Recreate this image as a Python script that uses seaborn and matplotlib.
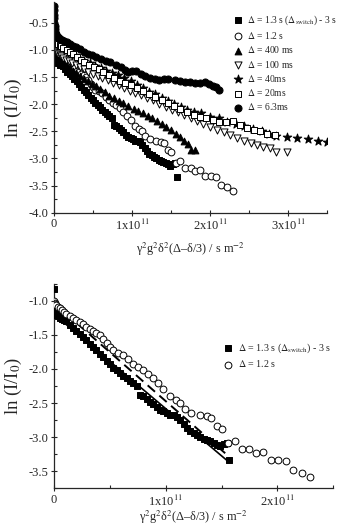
import matplotlib
matplotlib.use("Agg")
import matplotlib.pyplot as plt
import matplotlib.ticker as mticker
import numpy as np
import pandas as pd
import seaborn as sns

sns.set_style("ticks")
plt.rcParams["font.family"] = ["Liberation Serif", "DejaVu Serif"]
plt.rcParams["mathtext.fontset"] = "stix"
plt.rcParams["axes.unicode_minus"] = False

# x values in units of 1e11 s m^-2, y = ln(I/I0)

# delta = 1.3 s (switch) - 3 s  (filled squares)
sq13_x = [0.0, 0.0, 0.005, 0.01, 0.02, 0.035, 0.05, 0.07, 0.09, 0.11,
          0.14, 0.17, 0.20, 0.23, 0.26, 0.29, 0.32, 0.35, 0.38, 0.41,
          0.44, 0.47, 0.50, 0.53, 0.56, 0.59, 0.62, 0.65, 0.68, 0.71,
          0.74, 0.77, 0.80, 0.83, 0.86, 0.89, 0.92, 0.95, 0.98, 1.01,
          1.04, 1.07, 1.10, 1.13, 1.16, 1.19, 1.22, 1.25, 1.28, 1.31,
          1.34, 1.37, 1.40, 1.43, 1.46, 1.49, 1.52, 1.55, 1.57]
sq13_y = [-0.83, -1.12, -1.16, -1.19, -1.21, -1.23, -1.25, -1.27, -1.28, -1.30,
          -1.35, -1.40, -1.45, -1.49, -1.53, -1.58, -1.63, -1.68, -1.73, -1.78,
          -1.83, -1.88, -1.93, -1.98, -2.02, -2.06, -2.10, -2.14, -2.18, -2.21,
          -2.25, -2.38, -2.40, -2.44, -2.48, -2.52, -2.56, -2.60, -2.62, -2.65,
          -2.67, -2.68, -2.70, -2.75, -2.81, -2.87, -2.91, -2.94, -2.97, -3.00,
          -3.02, -3.04, -3.06, -3.08, -3.11, -3.13, -3.10, -3.09, -3.34]

# delta = 1.2 s (open circles)
c12_x = [0.0, 0.005, 0.01, 0.02, 0.035, 0.05, 0.07, 0.09, 0.11, 0.14,
         0.17, 0.20, 0.23, 0.26, 0.29, 0.32, 0.35, 0.38, 0.41, 0.44,
         0.47, 0.50, 0.53, 0.57, 0.62, 0.66, 0.71, 0.75, 0.80, 0.84,
         0.89, 0.93, 0.98, 1.04, 1.09, 1.13, 1.17, 1.23, 1.31, 1.37,
         1.41, 1.46, 1.50, 1.56, 1.62, 1.68, 1.75, 1.81, 1.87, 1.94,
         2.01, 2.08, 2.14, 2.22, 2.29]
c12_y = [-1.00, -1.03, -1.05, -1.07, -1.09, -1.11, -1.14, -1.16, -1.19, -1.22,
         -1.25, -1.28, -1.31, -1.34, -1.38, -1.41, -1.44, -1.47, -1.50, -1.56,
         -1.62, -1.68, -1.73, -1.76, -1.80, -1.86, -1.93, -1.97, -2.02, -2.07,
         -2.14, -2.21, -2.29, -2.40, -2.46, -2.50, -2.59, -2.65, -2.67, -2.69,
         -2.72, -2.84, -2.88, -3.09, -3.05, -3.17, -3.17, -3.23, -3.22, -3.33,
         -3.33, -3.35, -3.48, -3.53, -3.59]

# delta = 400 ms (filled triangles)
t400_x = [0.0, 0.005, 0.01, 0.02, 0.035, 0.05, 0.07, 0.09, 0.11, 0.14,
          0.17, 0.20, 0.24, 0.28, 0.33, 0.38, 0.43, 0.48, 0.54, 0.59,
          0.65, 0.71, 0.77, 0.83, 0.89, 0.95, 1.02, 1.08, 1.14, 1.20,
          1.26, 1.32, 1.38, 1.44, 1.50, 1.56, 1.62, 1.67, 1.72, 1.76, 1.81]
t400_y = [-1.02, -1.05, -1.07, -1.09, -1.11, -1.13, -1.16, -1.18, -1.21, -1.25,
          -1.29, -1.33, -1.38, -1.43, -1.48, -1.53, -1.58, -1.62, -1.67, -1.72,
          -1.78, -1.84, -1.89, -1.94, -1.98, -2.03, -2.08, -2.13, -2.17, -2.22,
          -2.26, -2.31, -2.37, -2.42, -2.48, -2.54, -2.60, -2.68, -2.74, -2.84, -2.84]

# delta = 100 ms (open down triangles)
t100_x = [0.0, 0.005, 0.01, 0.02, 0.035, 0.05, 0.07, 0.09, 0.12, 0.15,
          0.19, 0.23, 0.28, 0.33, 0.38, 0.44, 0.50, 0.56, 0.62, 0.69,
          0.76, 0.83, 0.90, 0.97, 1.04, 1.11, 1.19, 1.27, 1.35, 1.43,
          1.51, 1.59, 1.67, 1.75, 1.83, 1.91, 2.00, 2.09, 2.18, 2.26,
          2.35, 2.43, 2.52, 2.60, 2.68, 2.77, 2.85, 2.98]
t100_y = [-0.98, -1.00, -1.02, -1.04, -1.06, -1.08, -1.10, -1.12, -1.15, -1.18,
          -1.21, -1.24, -1.28, -1.31, -1.35, -1.40, -1.44, -1.48, -1.52, -1.56,
          -1.61, -1.65, -1.70, -1.75, -1.79, -1.83, -1.88, -1.93, -1.99, -2.05,
          -2.10, -2.15, -2.20, -2.26, -2.31, -2.36, -2.42, -2.47, -2.52, -2.57,
          -2.63, -2.68, -2.72, -2.75, -2.78, -2.80, -2.88, -2.88]

# delta = 40 ms (stars)
s40_x = [0.0, 0.01, 0.03, 0.06, 0.10, 0.15, 0.20, 0.26, 0.32, 0.39,
         0.46, 0.53, 0.60, 0.67, 0.74, 0.82, 0.90, 0.98, 1.06, 1.14,
         1.22, 1.30, 1.38, 1.46, 1.54, 1.63, 1.71, 1.79, 1.89, 2.00,
         2.11, 2.22, 2.33, 2.44, 2.55, 2.66, 2.75, 2.85, 2.98, 3.11,
         3.26, 3.39, 3.50]
s40_y = [-0.86, -0.88, -0.90, -0.93, -0.97, -1.01, -1.05, -1.10, -1.15, -1.20,
         -1.25, -1.29, -1.34, -1.38, -1.42, -1.46, -1.51, -1.57, -1.64, -1.71,
         -1.77, -1.82, -1.88, -1.94, -1.99, -2.05, -2.10, -2.14, -2.16, -2.24,
         -2.26, -2.32, -2.36, -2.41, -2.46, -2.50, -2.55, -2.59, -2.61, -2.63,
         -2.65, -2.67, -2.70]

# delta = 20 ms (open squares)
sq20_x = [0.0, 0.005, 0.01, 0.02, 0.035, 0.05, 0.07, 0.09, 0.12, 0.16,
          0.20, 0.24, 0.29, 0.34, 0.39, 0.45, 0.51, 0.57, 0.63, 0.70,
          0.77, 0.84, 0.91, 0.98, 1.06, 1.14, 1.22, 1.30, 1.38, 1.46,
          1.54, 1.62, 1.70, 1.79, 1.87, 1.95, 2.04, 2.12, 2.21, 2.30,
          2.38, 2.47, 2.56, 2.64, 2.73, 2.83]
sq20_y = [-0.78, -0.81, -0.83, -0.85, -0.87, -0.89, -0.91, -0.93, -0.96, -1.00,
          -1.04, -1.08, -1.13, -1.18, -1.22, -1.27, -1.31, -1.36, -1.41, -1.46,
          -1.52, -1.57, -1.61, -1.65, -1.70, -1.76, -1.82, -1.87, -1.92, -1.97,
          -2.03, -2.09, -2.14, -2.19, -2.23, -2.26, -2.29, -2.33, -2.33, -2.31,
          -2.39, -2.44, -2.47, -2.50, -2.54, -2.57]

# delta = 6.3 ms (filled circles)
c63_x = [0.0, 0.0, 0.001, 0.002, 0.004, 0.006, 0.01, 0.015, 0.02, 0.03,
         0.045, 0.06, 0.08, 0.10, 0.13, 0.16, 0.20, 0.24, 0.28, 0.33,
         0.38, 0.43, 0.48, 0.54, 0.60, 0.66, 0.72, 0.79, 0.86, 0.91,
         0.95, 1.00, 1.05, 1.12, 1.17, 1.23, 1.29, 1.35, 1.41, 1.46,
         1.55, 1.62, 1.68, 1.74, 1.81, 1.87, 1.93, 1.99, 2.04, 2.07, 2.11]
c63_y = [-0.20, -0.27, -0.35, -0.42, -0.50, -0.56, -0.62, -0.67, -0.70, -0.73,
         -0.76, -0.78, -0.80, -0.82, -0.84, -0.86, -0.89, -0.92, -0.95, -0.99,
         -1.03, -1.07, -1.10, -1.13, -1.16, -1.20, -1.23, -1.27, -1.31, -1.37,
         -1.40, -1.38, -1.39, -1.45, -1.48, -1.52, -1.53, -1.55, -1.53, -1.54,
         -1.56, -1.58, -1.60, -1.60, -1.61, -1.61, -1.60, -1.62, -1.67, -1.68, -1.74]

# straight lines in the lower panel
fit_solid_x = [0.0, 1.57]
fit_solid_y = [-1.20, -3.37]
fit_dash_x = [0.0, 1.55]
fit_dash_y = [-1.04, -3.26]

lab13 = r"$\Delta$ = 1.3 s ($\Delta_{\mathrm{switch}}$) - 3 s"
series = [
    (lab13, sq13_x, sq13_y, "s", "black", 18),
    (r"$\Delta$ = 1.2 s", c12_x, c12_y, "o", "white", 24),
    (r"$\Delta$ = 400 ms", t400_x, t400_y, "^", "black", 24),
    (r"$\Delta$ = 100 ms", t100_x, t100_y, "v", "white", 26),
    (r"$\Delta$ = 40ms", s40_x, s40_y, "*", "black", 42),
    (r"$\Delta$ = 20ms", sq20_x, sq20_y, "s", "white", 22),
    (r"$\Delta$ = 6.3ms", c63_x, c63_y, "o", "black", 26),
]


def style_axis(ax, xmax, ymin, ymax, yticks, xpad, ylab_size):
    ax.set_xlim(0, xmax * 1e11)
    ax.set_ylim(ymin, ymax)
    ax.set_yticks(yticks)
    ax.xaxis.set_major_locator(mticker.MultipleLocator(1e11))
    ax.xaxis.set_minor_locator(mticker.MultipleLocator(0.5e11))
    ax.yaxis.set_minor_locator(mticker.MultipleLocator(0.25))
    ax.xaxis.set_major_formatter(mticker.FuncFormatter(
        lambda v, p: "0" if abs(v) < 1 else "%dx10$^{11}$" % round(v / 1e11)))
    ax.yaxis.set_major_formatter(mticker.FormatStrFormatter("%.1f"))
    ax.tick_params(which="major", direction="inout", length=4, width=0.8, labelsize=9, pad=2)
    ax.tick_params(which="minor", direction="in", length=2.5, width=0.8)
    for s in ["top", "right"]:
        ax.spines[s].set_visible(False)
    for s in ["left", "bottom"]:
        ax.spines[s].set_linewidth(0.9)
    ax.set_xlabel(r"γ$^{2}$g$^{2}$δ$^{2}$(Δ–δ/3) / s m$^{-2}$", fontsize=8.8, labelpad=xpad)
    ax.set_ylabel(r"ln (I/I$_{0}$)", fontsize=ylab_size, labelpad=3)


fig = plt.figure(figsize=(3.4, 5.28), dpi=100)
ax1 = fig.add_axes([0.159, 0.597, 0.803, 0.399])
ax2 = fig.add_axes([0.159, 0.075, 0.821, 0.388])

for lab, xs, ys, mk, fc, sz in series:
    df = pd.DataFrame({"x": np.array(xs) * 1e11, "y": ys})
    sns.scatterplot(data=df, x="x", y="y", ax=ax1, marker=mk, color=fc,
                    edgecolor="black", linewidth=0.7, s=sz, label=lab)

style_axis(ax1, 3.5, -4.0, -0.12, [-4.0, -3.5, -3.0, -2.5, -2.0, -1.5, -1.0, -0.5], 5, 14)
ax1.legend(loc="upper left", bbox_to_anchor=(0.668, 0.984), bbox_transform=fig.transFigure,
           frameon=False, fontsize=6.9, handletextpad=0.35, labelspacing=0.34,
           borderpad=0, handlelength=1.2)

for lab, xs, ys, mk, fc, sz in series[:2]:
    df = pd.DataFrame({"x": np.array(xs) * 1e11, "y": ys})
    sns.scatterplot(data=df, x="x", y="y", ax=ax2, marker=mk, color=fc,
                    edgecolor="black", linewidth=0.7, s=sz, label=lab, zorder=3)

sns.lineplot(x=np.array(fit_solid_x) * 1e11, y=fit_solid_y, ax=ax2, color="black",
             linewidth=1.2, zorder=2)
sns.lineplot(x=np.array(fit_dash_x) * 1e11, y=fit_dash_y, ax=ax2, color="black",
             linewidth=1.4, linestyle=(0, (5, 3)), zorder=2)

style_axis(ax2, 2.5, -3.75, -0.75, [-3.5, -3.0, -2.5, -2.0, -1.5, -1.0], 0, 13.5)
handles, labels = ax2.get_legend_handles_labels()
ax2.legend(handles[:2], labels[:2], loc="upper left", bbox_to_anchor=(0.638, 0.362),
           bbox_transform=fig.transFigure, frameon=False, fontsize=7.2,
           handletextpad=0.4, labelspacing=0.3, borderpad=0, handlelength=1.2)

fig.savefig("out.png", dpi=100)
